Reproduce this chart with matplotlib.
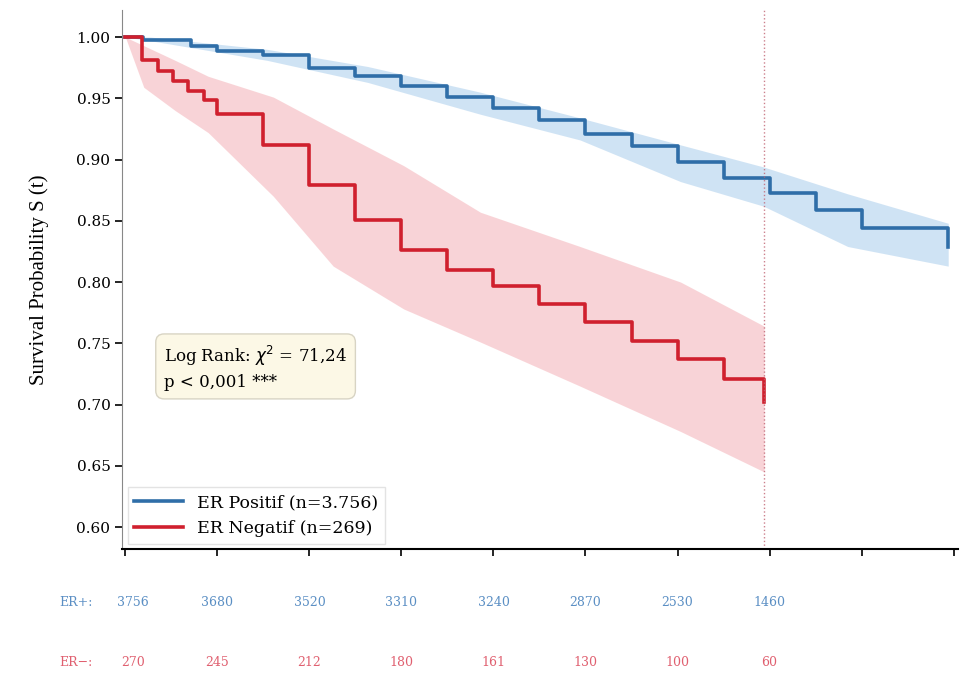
import matplotlib
matplotlib.use("Agg")
import matplotlib.pyplot as plt
import matplotlib.transforms as mtransforms

# Kaplan-Meier estimates (time in months)
pos_time = [0, 2.3, 8.5, 12, 18, 24, 30, 36, 42, 48, 54, 60, 66, 72, 78, 84, 90, 96, 107.3]
pos_surv = [1.000, 0.998, 0.993, 0.989, 0.985, 0.975, 0.968, 0.960, 0.951, 0.942, 0.932,
            0.921, 0.911, 0.898, 0.885, 0.873, 0.859, 0.844, 0.829]

neg_time = [0, 2.2, 4.2, 6.2, 8.2, 10.2, 12, 18, 24, 30, 36, 42, 48, 54, 60, 66, 72, 78, 83.3]
neg_surv = [1.000, 0.981, 0.972, 0.964, 0.956, 0.949, 0.937, 0.912, 0.879, 0.851, 0.826,
            0.810, 0.797, 0.782, 0.767, 0.752, 0.737, 0.721, 0.702]

# confidence bands
pos_ci_time = [0, 3.3, 18.5, 31.6, 46.3, 59.3, 72.4, 83.2, 94.2, 107.3]
pos_ci_low = [1.000, 0.997, 0.981, 0.963, 0.937, 0.916, 0.882, 0.862, 0.829, 0.813]
pos_ci_high = [1.000, 1.000, 0.990, 0.976, 0.955, 0.934, 0.912, 0.894, 0.872, 0.848]

neg_ci_time = [0, 2.4, 6.5, 10.8, 19.3, 27.1, 36.3, 46.3, 59.3, 72.4, 83.3]
neg_ci_low = [1.000, 0.959, 0.940, 0.922, 0.870, 0.813, 0.778, 0.751, 0.715, 0.678, 0.645]
neg_ci_high = [1.000, 0.993, 0.981, 0.968, 0.951, 0.925, 0.895, 0.857, 0.829, 0.800, 0.764]

# number at risk
risk_time = [0, 12, 24, 36, 48, 60, 72, 84]
risk_pos = [3756, 3680, 3520, 3310, 3240, 2870, 2530, 1460]
risk_neg = [270, 245, 212, 180, 161, 130, 100, 60]

blue = "#2f6ea8"
red = "#d0202e"

fig = plt.figure(figsize=(9.63, 6.77), dpi=100)
ax = fig.add_axes([0.127, 0.189, 0.868, 0.796])

ax.fill_between(pos_ci_time, pos_ci_low, pos_ci_high, color="#a9cdec", alpha=0.55, lw=0)
ax.fill_between(neg_ci_time, neg_ci_low, neg_ci_high, color="#f3a9b0", alpha=0.5, lw=0)

ax.plot(pos_time, pos_surv, drawstyle="steps-post", color=blue, lw=2.6,
        label="ER Positif (n=3.756)")
ax.plot(neg_time, neg_surv, drawstyle="steps-post", color=red, lw=2.6,
        label="ER Negatif (n=269)")

ax.axvline(neg_time[-1], color="#c06070", ls=":", lw=1.0, alpha=0.8)

ax.set_xlim(-0.4, 108.6)
ax.set_ylim(0.582, 1.022)
ax.set_xticks(range(0, 109, 12))
ax.set_xticklabels([])
ax.set_yticks([0.60, 0.65, 0.70, 0.75, 0.80, 0.85, 0.90, 0.95, 1.00])
ax.set_yticklabels([f"{v:.2f}" for v in ax.get_yticks()], family="DejaVu Serif", fontsize=11)
ax.tick_params(direction="out", length=5, width=1.2)
for s in ["top", "right"]:
    ax.spines[s].set_visible(False)
ax.spines["left"].set_color("#888888")
ax.spines["bottom"].set_linewidth(1.5)

ax.set_ylabel("Survival Probability S (t)", family="Liberation Serif", fontsize=15, labelpad=20)

ax.text(0.05, 0.38, "Log Rank: $\\chi^2$ = 71,24\np < 0,001 ***", transform=ax.transAxes,
        family="DejaVu Serif", fontsize=12, va="top", ha="left", linespacing=1.4,
        bbox=dict(boxstyle="round,pad=0.5", fc="#fcf8e6", ec="#d8d4c4", lw=1))

leg = ax.legend(loc="lower left", prop={"family": "DejaVu Serif", "size": 12.5},
                fancybox=False, edgecolor="#dddddd", handlelength=2.8,
                bbox_to_anchor=(0.0, 0.0), borderaxespad=0.3)

# number at risk table
trans = mtransforms.blended_transform_factory(ax.transData, ax.transAxes)
ax.text(-6.5, -0.10, "ER+:", transform=trans, ha="center", va="center",
        color="#5b8fc4", family="DejaVu Serif", fontsize=9)
ax.text(-6.5, -0.21, "ER\u2212:", transform=trans, ha="center", va="center",
        color="#e06070", family="DejaVu Serif", fontsize=9)
for t, p, n in zip(risk_time, risk_pos, risk_neg):
    x = t + 1.0 if t == 0 else t
    ax.text(x, -0.10, str(p), transform=trans, ha="center", va="center",
            color="#5b8fc4", family="DejaVu Serif", fontsize=9)
    ax.text(x, -0.21, str(n), transform=trans, ha="center", va="center",
            color="#e06070", family="DejaVu Serif", fontsize=9)

plt.savefig("out.png", dpi=100)
